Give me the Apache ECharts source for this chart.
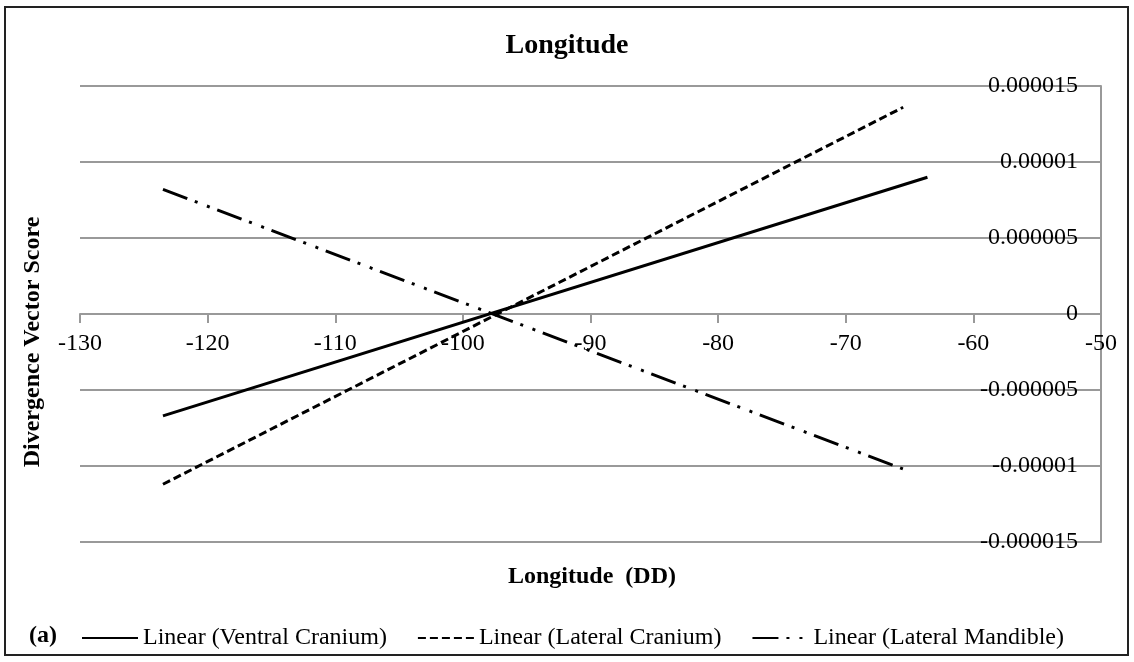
<!DOCTYPE html>
<html>
<head>
<meta charset="utf-8">
<script src="https://cdn.jsdelivr.net/npm/echarts@6/dist/echarts.min.js"></script>
<style>
  html, body { margin: 0; padding: 0; background: #fff; }
  #chart { width: 1134px; height: 662px; }
</style>
</head>
<body>
<div id="chart"></div>
<script>
// trendline end points (longitude DD, score)
var ventralCranium = [[-123.5, -0.0000067], [-63.6, 0.0000090]];
var lateralCranium = [[-123.5, -0.0000112], [-65.5, 0.0000136]];
var lateralMandible = [[-123.5, 0.0000082], [-65.5, -0.0000102]];

var seriesNames = ['Linear (Ventral Cranium)', 'Linear (Lateral Cranium)', 'Linear (Lateral Mandible)'];
var xTicks = [-130, -120, -110, -100, -90, -80, -70, -60, -50];
var yTicks = [-0.000015, -0.00001, -0.000005, 0, 0.000005, 0.00001, 0.000015];

var serif = '"Liberation Serif", "Times New Roman", serif';

var chart = echarts.init(document.getElementById('chart'));

function yLabel(v) {
    if (Math.abs(v) < 1e-12) return '0';
    return v.toFixed(6).replace(/0+$/, '').replace(/\.$/, '');
}

var option = {
    backgroundColor: '#fff',
    animation: false,
    textStyle: { fontFamily: serif, color: '#000' },
    title: {
        text: 'Longitude',
        left: 'center',
        top: 32,
        padding: 0,
        textStyle: { fontFamily: serif, fontSize: 28, fontWeight: 'bold', color: '#000' }
    },
    grid: { left: 80, right: 33, top: 86, bottom: 120 },
    xAxis: {
        type: 'value',
        min: xTicks[0],
        max: xTicks[xTicks.length - 1],
        interval: 10,
        // axis sits on y = 0, half way up the plot
        offset: -228,
        axisLine: { onZero: false, lineStyle: { color: '#999', width: 2 } },
        axisTick: { show: true, length: 9, lineStyle: { color: '#999', width: 2 } },
        axisLabel: { fontFamily: serif, fontSize: 24, color: '#000', margin: 18 },
        splitLine: { show: false }
    },
    yAxis: {
        type: 'value',
        position: 'right',
        min: yTicks[0],
        max: yTicks[yTicks.length - 1],
        interval: 0.000005,
        axisLine: { show: true, lineStyle: { color: '#999', width: 2 } },
        axisTick: { show: false },
        axisLabel: {
            inside: true,
            margin: 23,
            fontFamily: serif,
            fontSize: 24,
            color: '#000',
            formatter: yLabel
        },
        splitLine: { show: true, lineStyle: { color: '#999', width: 2 } }
    },
    legend: {
        left: 76,
        top: 621,
        itemWidth: 56,
        itemHeight: 2,
        itemGap: 30,
        itemStyle: { opacity: 0 },
        textStyle: { fontFamily: serif, fontSize: 24, color: '#000' },
        data: seriesNames
    },
    graphic: [
        {
            type: 'rect',
            shape: { x: 5, y: 7, width: 1123, height: 648 },
            style: { fill: 'none', stroke: '#222', lineWidth: 2 }
        },
        {
            type: 'text',
            x: 33, y: 342,
            rotation: Math.PI / 2,
            style: {
                text: 'Divergence Vector Score',
                font: 'bold 24px ' + serif,
                fill: '#000',
                textAlign: 'center',
                textVerticalAlign: 'middle'
            }
        },
        {
            type: 'text',
            x: 592, y: 577,
            style: {
                text: 'Longitude  (DD)',
                font: 'bold 24px ' + serif,
                fill: '#000',
                textAlign: 'center',
                textVerticalAlign: 'middle'
            }
        },
        {
            type: 'text',
            x: 29, y: 636,
            style: {
                text: '(a)',
                font: 'bold 24px ' + serif,
                fill: '#000',
                textVerticalAlign: 'middle'
            }
        }
    ],
    series: [
        {
            name: seriesNames[0],
            type: 'line',
            data: ventralCranium,
            symbol: 'none',
            lineStyle: { color: '#000', width: 3, type: 'solid' },
            itemStyle: { color: '#000' }
        },
        {
            name: seriesNames[1],
            type: 'line',
            data: lateralCranium,
            symbol: 'none',
            lineStyle: { color: '#000', width: 3, type: [8, 4] },
            itemStyle: { color: '#000' }
        },
        {
            name: seriesNames[2],
            type: 'line',
            data: lateralMandible,
            symbol: 'none',
            lineStyle: { color: '#000', width: 3, type: [26, 8, 3, 10, 3, 8] },
            itemStyle: { color: '#000' }
        }
    ]
};

chart.setOption(option);
</script>
</body>
</html>
